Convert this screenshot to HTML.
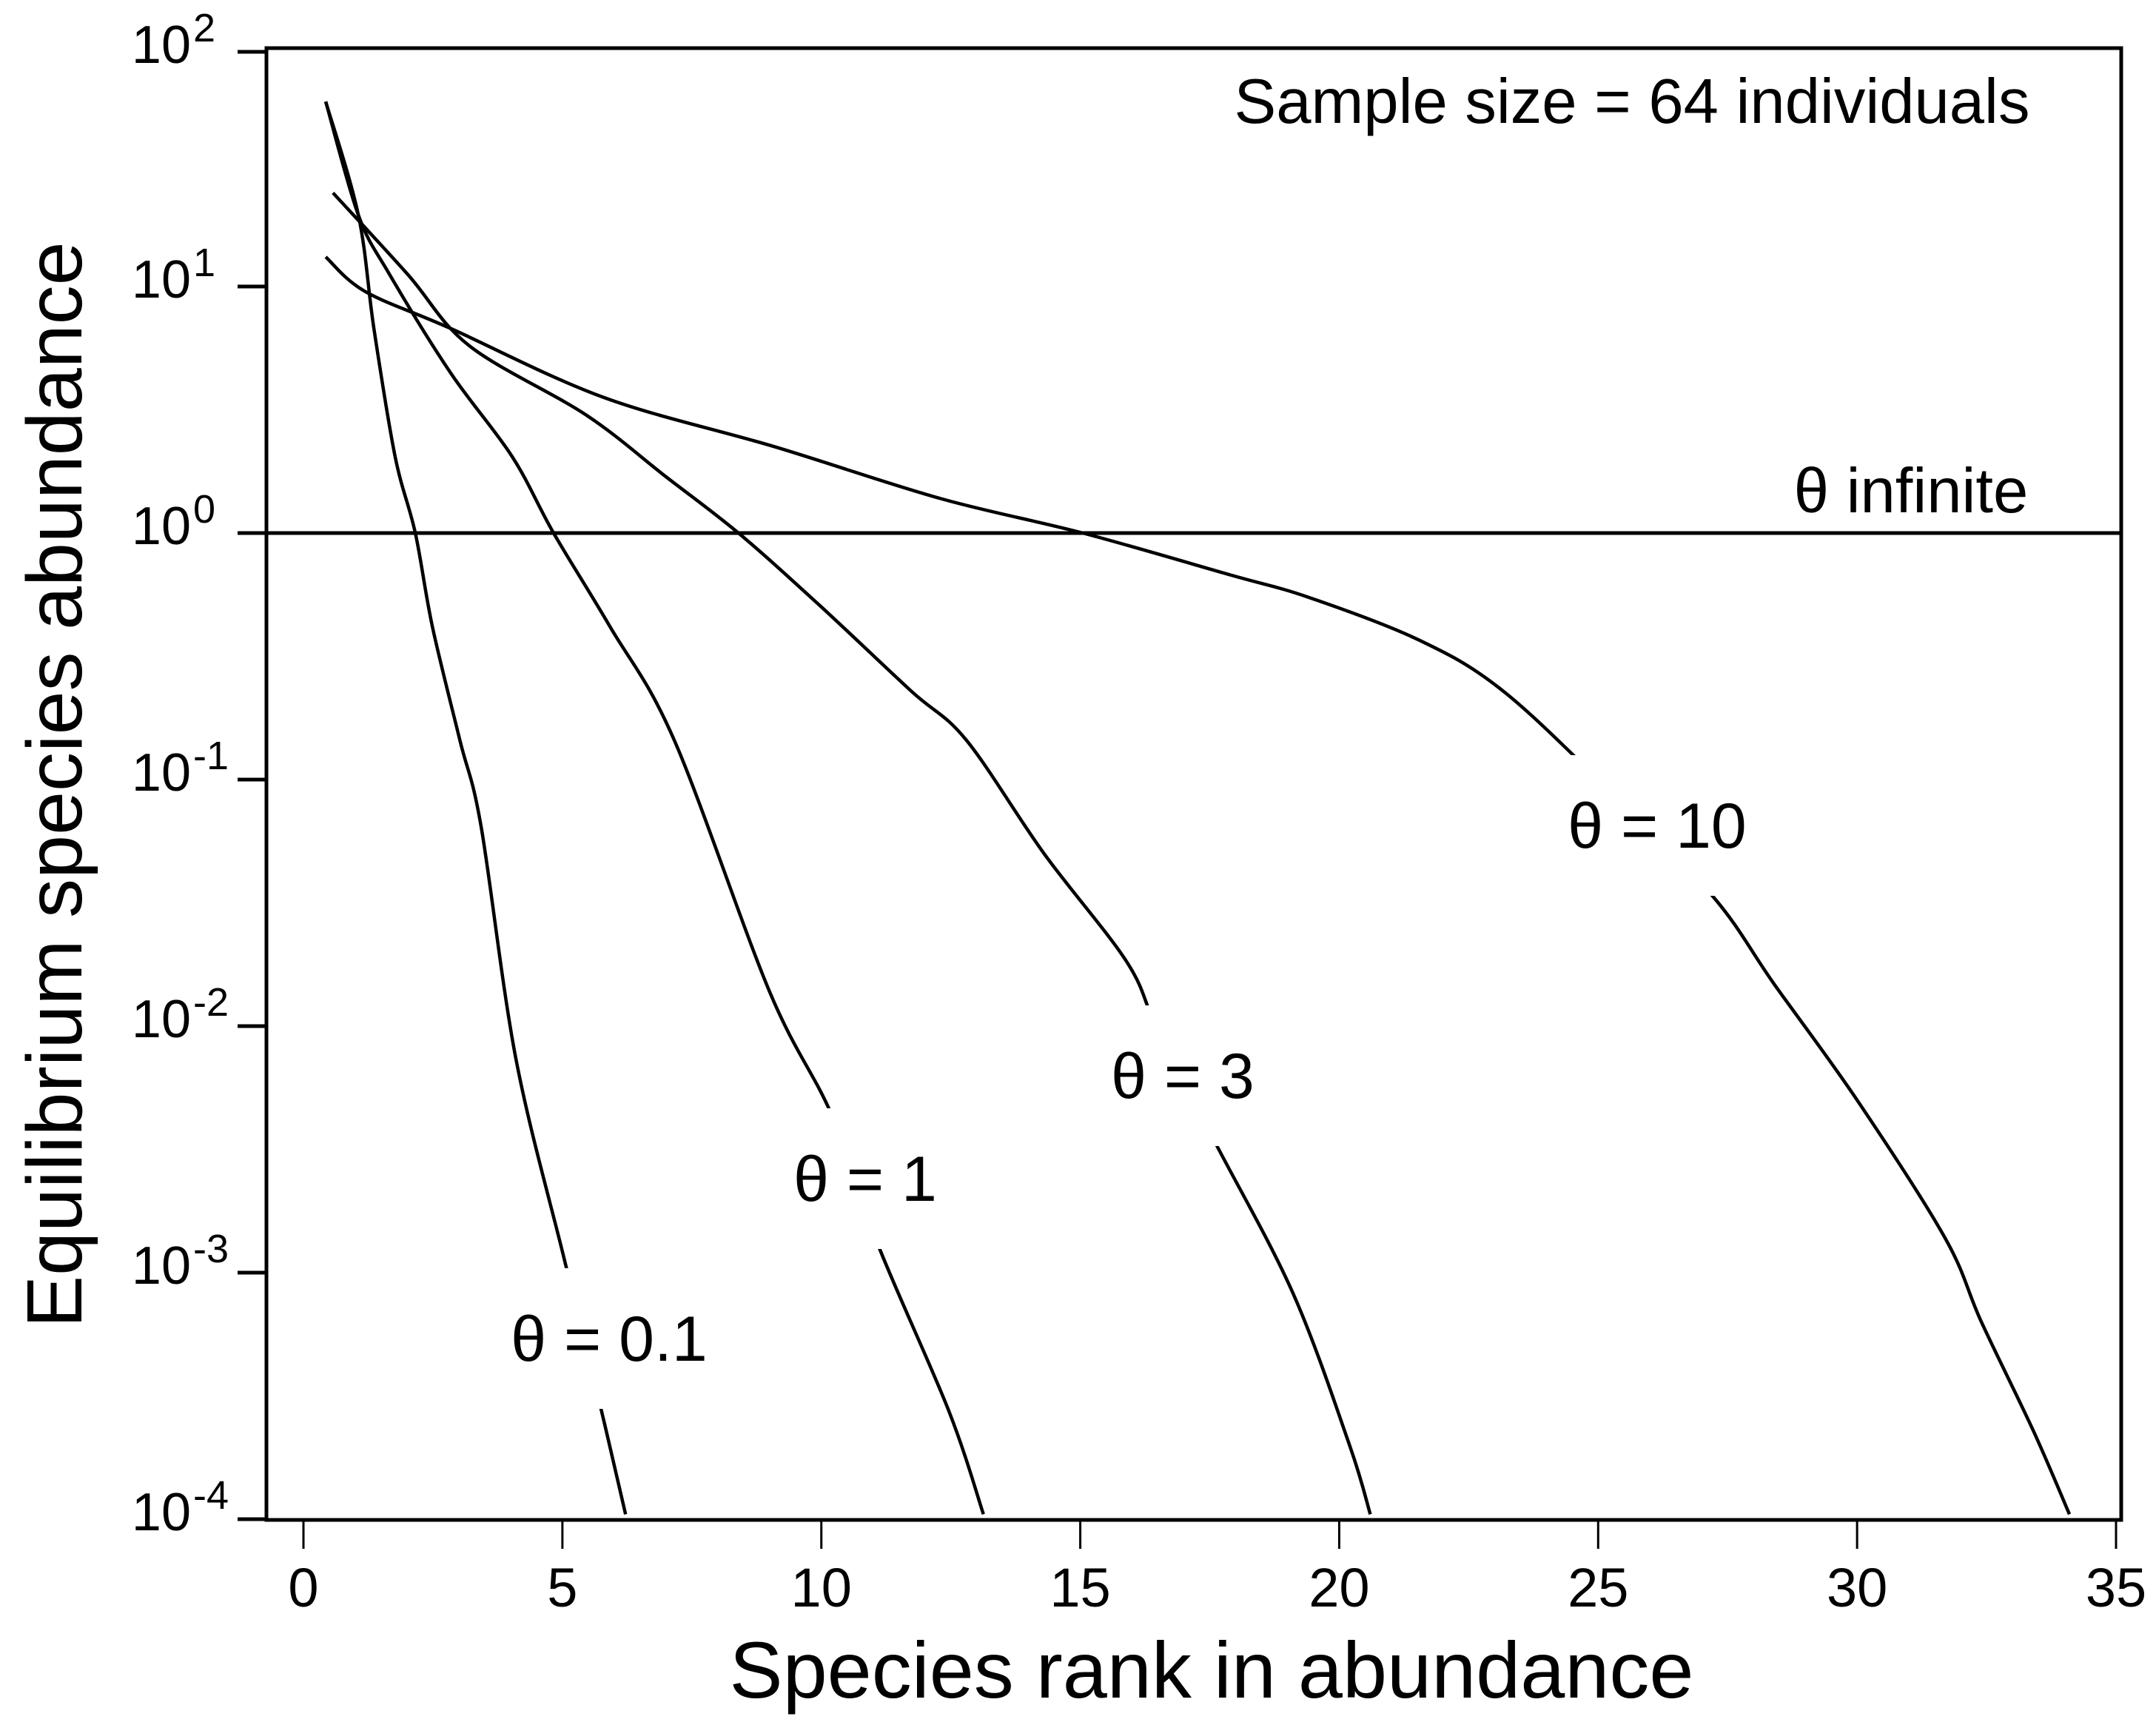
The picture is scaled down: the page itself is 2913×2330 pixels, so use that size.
<!DOCTYPE html>
<html><head><meta charset="utf-8"><style>
html,body{margin:0;padding:0;background:#fff;}
svg{display:block;font-family:"Liberation Sans",sans-serif;}
</style></head><body>
<svg id="chart" width="2913" height="2330" viewBox="0 0 2913 2330" xmlns="http://www.w3.org/2000/svg">
<rect width="2913" height="2330" fill="#fff"/>
<g id="curves"></g>
<g id="labels"></g>
<g id="axes"></g>
</svg>
<script>
const xTicks=[0,5,10,15,20,25,30,35];
const yTickExps=[2,1,0,-1,-2,-3,-4];
const infiniteLevel=1;
const rank01=[0.43,1.06,1.36,1.77,2.16,2.49,3.02,3.43,4.1,5.03,5.72,6.22];
const log01=[1.75,1.29,0.83,0.31,0,-0.38,-0.84,-1.19,-2.13,-2.94,-3.53,-3.98];
const rank1=[0.43,1.06,1.66,2.84,4.03,4.83,5.92,7.16,9.0,10.2,11.1,12.46,13.13];
const log1=[1.75,1.29,1.05,0.65,0.31,0,-0.38,-0.84,-1.86,-2.36,-2.89,-3.56,-3.98];
const rank3=[0.57,2.01,3.2,5.45,6.99,8.4,9.95,11.73,12.8,14.3,15.9,16.5,17.6,19.1,20.2,20.6];
const log3=[1.38,1.05,0.76,0.48,0.23,0,-0.29,-0.64,-0.84,-1.3,-1.74,-2.02,-2.47,-3.08,-3.7,-3.98];
const rank10=[0.43,1.19,2.84,5.8,9.1,12.3,15.05,17.9,19.4,21.5,23.1,25.1,27.2,28.4,30.0,31.7,32.4,33.4,34.1];
const log10v=[1.12,0.98,0.83,0.55,0.35,0.14,0,-0.17,-0.26,-0.43,-0.63,-1.02,-1.47,-1.83,-2.3,-2.86,-3.2,-3.64,-3.98];

const NS='http://www.w3.org/2000/svg';
const X0=410,X1=2859,Y0=720,DEC=333;
const L=360,R=2866,T=65,B=2053;
function xs(v){return X0+(X1-X0)*v/35;}
function ys(e){return Y0-DEC*e;}
function mk(tag,attrs,parent){const el=document.createElementNS(NS,tag);for(const k in attrs)el.setAttribute(k,attrs[k]);parent.appendChild(el);return el;}
const curves=document.getElementById('curves'),labels=document.getElementById('labels'),axes=document.getElementById('axes');

function curve(rs,ls,name){
  const p=rs.map((r,i)=>[xs(r),ys(ls[i])]);
  let d='M'+p[0][0]+','+p[0][1];
  for(let i=0;i<p.length-1;i++){
    const p0=p[i-1]||p[i],p1=p[i],p2=p[i+1],p3=p[i+2]||p2;
    const c1x=p1[0]+(p2[0]-p0[0])/6,c1y=p1[1]+(p2[1]-p0[1])/6;
    const c2x=p2[0]-(p3[0]-p1[0])/6,c2y=p2[1]-(p3[1]-p1[1])/6;
    d+=' C'+c1x+','+c1y+' '+c2x+','+c2y+' '+p2[0]+','+p2[1];
  }
  const el=mk('path',{d:d,fill:'none',stroke:'#000','stroke-width':4.5,'stroke-linejoin':'round'},curves);
  
  
}
curve(rank01,log01,'curve-theta-0.1');
curve(rank1,log1,'curve-theta-1');
curve(rank3,log3,'curve-theta-3');
curve(rank10,log10v,'curve-theta-10');

const inf=mk('line',{x1:L,x2:R,y1:ys(Math.log10(infiniteLevel)),y2:ys(Math.log10(infiniteLevel)),stroke:'#000','stroke-width':5},curves);



function label(txt,cx,cy,w,h,name){
  const bg=mk('rect',{x:cx-w/2,y:cy-h/2,width:w,height:h,fill:'#fff'},labels);
  
  
  const t=mk('text',{x:cx,y:cy+30,'text-anchor':'middle','font-size':86,fill:'#000'},labels);
  t.textContent=txt;
  
  
}
label('θ = 10',2239,1115,340,190,'label-theta-10');
label('θ = 3',1598,1453,300,190,'label-theta-3');
label('θ = 1',1169,1592,330,190,'label-theta-1');
label('θ = 0.1',823,1808,340,190,'label-theta-0.1');

let t=mk('text',{x:2205,y:166,'text-anchor':'middle','font-size':85},labels);
t.textContent='Sample size = 64 individuals';


t=mk('text',{x:2582,y:692,'text-anchor':'middle','font-size':85},labels);
t.textContent='θ infinite';



const frame=mk('rect',{x:L,y:T,width:R-L,height:B-T,fill:'none',stroke:'#000','stroke-width':5},axes);



xTicks.forEach(v=>{
  const tk=mk('line',{x1:xs(v),x2:xs(v),y1:B,y2:2092,stroke:'#000','stroke-width':3},axes);
  
  
  const tx=mk('text',{x:xs(v),y:2170,'text-anchor':'middle','font-size':74},axes);
  tx.textContent=v;
  
  
});
yTickExps.forEach(e=>{
  const y=Math.max(ys(e),T+5);
  const tk=mk('line',{x1:321,x2:L,y1:y,y2:y,stroke:'#000','stroke-width':5},axes);
  
  
  const tx=mk('text',{x:258,y:y+15,'text-anchor':'end','font-size':72},axes);
  tx.textContent='10';
  
  
  const sp=mk('text',{x:261,y:y-14,'text-anchor':'start','font-size':54},axes);
  sp.textContent=String(e);
  
  
});
t=mk('text',{x:1637,y:2293,'text-anchor':'middle','font-size':108},axes);
t.textContent='Species rank in abundance';


t=mk('text',{x:0,y:0,'text-anchor':'middle','font-size':106},axes);
t.setAttribute('transform','translate(110,1060) rotate(-90)');
t.textContent='Equilibrium species abundance';


</script>
</body></html>
